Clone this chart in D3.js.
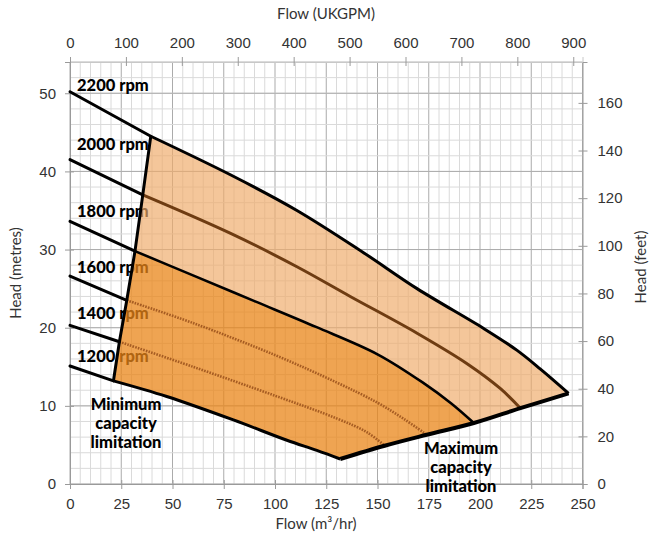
<!DOCTYPE html>
<html><head><meta charset="utf-8">
<script src="https://cdn.jsdelivr.net/npm/d3@7"></script>
<style>
html,body{margin:0;padding:0;background:#fff;}
svg{display:block;font-family:Lato,"Open Sans",sans-serif;}
</style></head>
<body>
<svg id="chart" width="651" height="533"></svg>
<script>
// ---- data (flow m3/hr, head m) ----
const curve2200 = [[0,50.2],[39.4,44.5],[78,39.6],[110.7,35.0],[143.2,29.6],[169.3,25.0],[201.8,19.9],[218.1,17.1],[229.5,14.7],[243.2,11.6]];
const curve2000 = [[0,41.5],[35.5,37.0],[78.1,32.1],[110.7,27.8],[136.7,24.0],[169.3,19.3],[193.7,15.4],[210,12.2],[219.7,9.7]];
const curve1800 = [[0,33.6],[31.7,29.8],[60,26.7],[90,23.4],[120,20.1],[150,16.6],[172,13.0],[186,10.3],[197,7.8]];
const curve1600 = [[0,26.6],[27.7,23.5],[60,20.6],[100,16.5],[130,13.0],[150,10.4],[163,8.3],[174,6.3]];
const curve1400 = [[0,20.3],[24.1,18.2],[60,15.0],[100,11.3],[130,8.4],[145,6.6],[153.5,4.9]];
const curve1200 = [[0,15.1],[21.2,13.2],[47.2,11.2],[79.7,8.2],[105.8,5.6],[120.4,4.3],[131.8,3.2]];
const minLine = [[21.2,13.2],[24.1,18.2],[27.7,23.5],[31.7,29.8],[35.5,37.0],[39.4,44.5]];
const maxLine = [[131.8,3.2],[153.5,4.9],[174,6.3],[197,7.8],[219.7,9.7],[243.2,11.6]];
const rpmLabels = ["2200 rpm","2000 rpm","1800 rpm","1600 rpm","1400 rpm","1200 rpm"];
const rpmLabelHead = [51.0, 43.5, 34.9, 27.8, 21.9, 16.4];
const flowTicks = [0,25,50,75,100,125,150,175,200,225,250];
const headTicks = [0,10,20,30,40,50];
const ukgpmTicks = [0,100,200,300,400,500,600,700,800,900];
const feetTicks = [0,20,40,60,80,100,120,140,160];
const M3H_TO_UKGPM = 3.66615;
const M_TO_FT = 3.28084;

const svg = d3.select("#chart");
const L = 70, R = 582.5, T = 62, B = 484;
const x = d3.scaleLinear().domain([0,250]).range([L,R]);
const y = d3.scaleLinear().domain([0,54]).range([B,T]);
const xTop = d3.scaleLinear().domain([0,250*M3H_TO_UKGPM]).range([L,R]);
const yRight = d3.scaleLinear().domain([0,54*M_TO_FT]).range([B,T]);

// grid
const g = svg.append("g");
g.selectAll(".vmin").data(d3.range(0,251,5)).join("line")
  .attr("x1",d=>x(d)).attr("x2",d=>x(d)).attr("y1",T).attr("y2",B)
  .attr("stroke",d=>d%25===0?"#ababab":"#dadada").attr("stroke-width",1);
g.selectAll(".hmin").data(d3.range(0,55,2)).join("line")
  .attr("x1",L).attr("x2",R).attr("y1",d=>y(d)).attr("y2",d=>y(d))
  .attr("stroke","#dadada").attr("stroke-width",1);
g.selectAll(".hmaj").data(d3.range(0,51,10)).join("line")
  .attr("x1",L).attr("x2",R).attr("y1",d=>y(d)).attr("y2",d=>y(d))
  .attr("stroke","#ababab").attr("stroke-width",1);
g.append("line").attr("x1",L).attr("x2",R).attr("y1",T).attr("y2",T).attr("stroke","#c8c8c8");

// axes
function styleAxis(sel){
  sel.select(".domain").attr("stroke","#9a9a9a");
  sel.selectAll(".tick line").attr("stroke","#9a9a9a");
  sel.selectAll(".tick text").attr("fill","#333").attr("font-size","15px");
}
const axB = svg.append("g").attr("transform",`translate(0,${B})`)
  .call(d3.axisBottom(x).tickValues(flowTicks).tickSize(5).tickPadding(9));
axB.selectAll(".tick line").attr("y1",-4);
styleAxis(axB);
const axT = svg.append("g").attr("transform",`translate(0,${T})`)
  .call(d3.axisTop(xTop).tickValues(ukgpmTicks).tickSize(5).tickPadding(9));
axT.selectAll(".tick line").attr("y1",4);
styleAxis(axT); axT.select(".domain").attr("stroke","#c8c8c8");
const axL = svg.append("g").attr("transform",`translate(${L},0)`)
  .call(d3.axisLeft(y).tickValues(headTicks).tickSize(5).tickPadding(9));
axL.selectAll(".tick line").attr("x1",4);
styleAxis(axL);
const axR = svg.append("g").attr("transform",`translate(${R},0)`)
  .call(d3.axisRight(yRight).tickValues(feetTicks).tickSize(5).tickPadding(10));
axR.selectAll(".tick line").attr("x1",-4);
styleAxis(axR);

// axis titles
svg.append("text").attr("x",326).attr("y",19).attr("text-anchor","middle")
  .attr("font-size","15px").attr("fill","#333").text("Flow (UKGPM)");
svg.append("text").attr("x",316).attr("y",529).attr("text-anchor","middle")
  .attr("font-size","15px").attr("fill","#333").text("Flow (m³/hr)");
svg.append("text").attr("transform","translate(21,273) rotate(-90)").attr("text-anchor","middle")
  .attr("font-size","15px").attr("fill","#333").text("Head (metres)");
svg.append("text").attr("transform","translate(646,267) rotate(-90)").attr("text-anchor","middle")
  .attr("font-size","15px").attr("fill","#333").text("Head (feet)");

// rpm labels (under fill)
svg.selectAll(".rpm").data(rpmLabels).join("text")
  .attr("x",77).attr("y",(d,i)=>y(rpmLabelHead[i])).attr("dy","0.35em")
  .attr("font-size","16.5px").attr("font-weight",900).attr("fill","#000").text(d=>d);

// smooth segment helper
const smooth = d3.line().x(d=>x(d[0])).y(d=>y(d[1])).curve(d3.curveCatmullRom.alpha(0.5));
const straight = d3.line().x(d=>x(d[0])).y(d=>y(d[1]));
const after = (c,x0)=>c.filter(p=>p[0]>=x0-1e-9);
const before = (c,x0)=>c.filter(p=>p[0]<=x0+1e-9);
const between = (c,a,b)=>c.filter(p=>p[0]>=a-1e-9 && p[0]<=b+1e-9);
function joinSegs(segs){
  return segs.map((s,i)=>{ const d = (s.gen||smooth)(s.pts); return i===0?d:d.replace(/^M/,"L"); }).join("")+"Z";
}
const x1800 = curve1800[curve1800.length-1][0];
const lightD = joinSegs([
  {pts: between(minLine, minLine[3][0], minLine[5][0]), gen: straight},
  {pts: after(curve2200, minLine[5][0])},
  {pts: between(maxLine, x1800, 250).reverse()},
  {pts: after(curve1800, minLine[3][0]).reverse()}
]);
const darkD = joinSegs([
  {pts: after(curve1800, minLine[3][0])},
  {pts: between(maxLine, 0, x1800).reverse()},
  {pts: after(curve1200, minLine[0][0]).reverse()},
  {pts: between(minLine, minLine[0][0], minLine[3][0]), gen: straight}
]);
svg.append("path").attr("d",lightD).attr("fill","#EFAB6A").attr("fill-opacity",0.68);
svg.append("path").attr("d",darkD).attr("fill","#EA8618").attr("fill-opacity",0.75);

// curves: outside part black, inside part styled
function drawCurve(c, x0, st){
  svg.append("path").attr("d",straight(before(c,x0))).attr("fill","none")
    .attr("stroke","#000").attr("stroke-width",3).attr("stroke-linecap","round");
  const p = svg.append("path").attr("d",smooth(after(c,x0))).attr("fill","none")
    .attr("stroke",st.color).attr("stroke-width",st.w).attr("stroke-linejoin","round");
  if(st.dash) p.attr("stroke-dasharray",st.dash);
}
drawCurve(curve1400, minLine[1][0], {color:"#A65C22", w:2.6, dash:"1.6 1.2"});
drawCurve(curve1600, minLine[2][0], {color:"#A65C22", w:2.6, dash:"1.6 1.2"});
drawCurve(curve2000, minLine[4][0], {color:"#6E3C12", w:3});
drawCurve(curve1800, minLine[3][0], {color:"#000", w:2.6});
drawCurve(curve1200, minLine[0][0], {color:"#000", w:3});
drawCurve(curve2200, minLine[5][0], {color:"#000", w:3});
svg.append("path").attr("d",straight(minLine)).attr("fill","none").attr("stroke","#000").attr("stroke-width",3);
svg.append("path").attr("d",smooth(maxLine)).attr("fill","none").attr("stroke","#000").attr("stroke-width",4).attr("stroke-linejoin","round");

// limitation labels
const minLbl = ["Minimum","capacity","limitation"];
const maxLbl = ["Maximum","capacity","limitation"];
svg.selectAll(".minl").data(minLbl).join("text")
  .attr("x",126).attr("y",(d,i)=>404+i*19).attr("dy","0.35em").attr("text-anchor","middle")
  .attr("font-size","16.5px").attr("font-weight",900).attr("fill","#000").text(d=>d);
svg.selectAll(".maxl").data(maxLbl).join("text")
  .attr("x",461).attr("y",(d,i)=>448+i*19).attr("dy","0.35em").attr("text-anchor","middle")
  .attr("font-size","16.5px").attr("font-weight",900).attr("fill","#000").text(d=>d);
</script>
</body></html>
